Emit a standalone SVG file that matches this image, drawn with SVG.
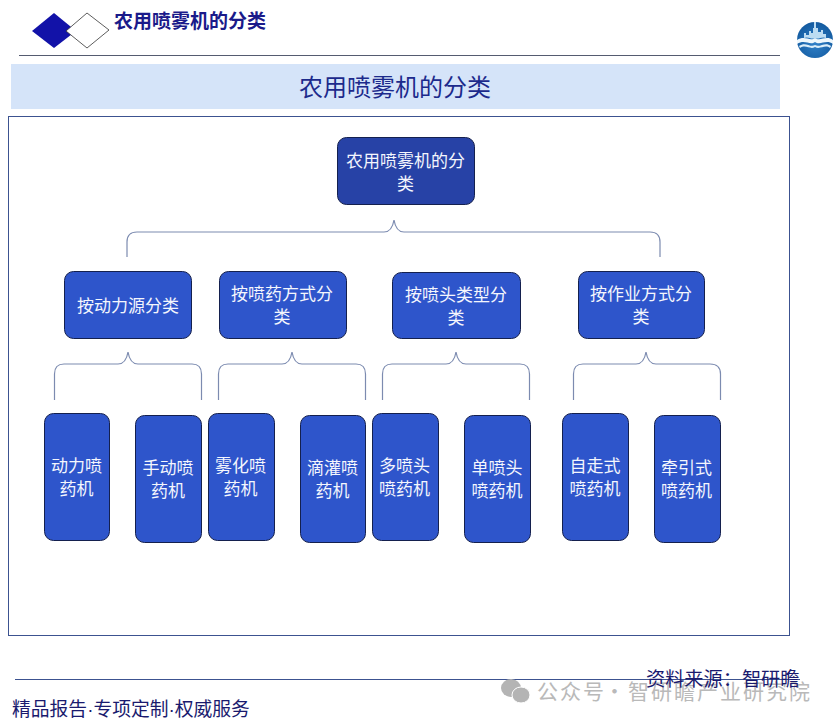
<svg xmlns="http://www.w3.org/2000/svg" width="837" height="724" viewBox="0 0 837 724">
<defs>
<radialGradient id="logo" cx="0.5" cy="0.6" r="0.6"><stop offset="0" stop-color="#2f80c8"/><stop offset="1" stop-color="#135a9f"/></radialGradient>
</defs>
<style>
text{font-family:"Noto Sans CJK SC","Noto Sans",sans-serif}
.l{fill:#f4f6fd;font-size:17px;text-anchor:middle}
.n{fill:#2e55cb;stroke:#14204e;stroke-width:1}
.b{fill:none;stroke:#7c8bb0;stroke-width:1.2}
</style>
<rect width="837" height="724" fill="#fff"/>
<g id="header">
<polygon points="54,13 76,31 54,48 32,31" fill="#1212a8"/>
<polygon points="87,13 109,30 87,48 66,31" fill="#fff" stroke="#333" stroke-width="0.8"/>
<text x="114" y="28" font-size="19" font-weight="700" fill="#1a1a8a">农用喷雾机的分类</text>
<line x1="19" y1="55.500" x2="780" y2="55.500" stroke="#555b70" stroke-width="1"/>
<rect x="11" y="64" width="769" height="45" fill="#d5e4f9"/>
<text x="395" y="96" font-size="24" text-anchor="middle" fill="#1c2a8c">农用喷雾机的分类</text>
</g>
<g id="logo-mark">
<circle cx="815" cy="40" r="18" fill="url(#logo)"/>
<path d="M804,38 V33 H806 V35 H809 V31 H811 V33 H813 V28 H814 V22 H816 V28 H818 V32 H821 V30 H823 V34 H826 V38 C822,36 818,40 815,38 C812,40 808,36 804,38Z" fill="#bcdcf2"/>
<path d="M797,40 C805,35 810,42 815,38 C820,42 826,35 833,40 L833,44 C826,39 820,46 815,42 C810,46 805,39 797,44Z" fill="#eef7fc"/>
<path d="M799,46 C806,41 810,48 815,45 C820,48 825,41 831,46 L830,48 C825,44 820,50 815,47 C810,50 806,44 800,48Z" fill="#dbeef9"/>
</g>
<rect id="frame" x="8.500" y="116.500" width="781" height="519" fill="#fff" stroke="#3c5290" stroke-width="1"/>
<g id="connectors">
<path class="b" d="M127,257 V242 Q127,232 137,232 H384 Q392,232 394,220 Q396,232 404,232 H650 Q660,232 660,242 V257"/>
<path class="b" d="M54.500,400 V374 Q54.500,364 64,364 H118 Q126,364 128,352 Q130,364 138,364 H192 Q201.500,364 201.500,374 V400"/>
<path class="b" d="M218.500,400 V374 Q218.500,364 228,364 H282 Q290,364 292,352 Q294,364 302,364 H356 Q365.500,364 365.500,374 V400"/>
<path class="b" d="M382.500,400 V374 Q382.500,364 392,364 H446 Q454,364 456,352 Q458,364 466,364 H520 Q529.500,364 529.500,374 V400"/>
<path class="b" d="M573.500,400 V374 Q573.500,364 583,364 H636 Q644,364 646,352 Q648,364 656,364 H710 Q720.500,364 720.500,374 V400"/>
</g>
<g id="root"><rect x="337.500" y="137.500" width="137" height="67" rx="9" fill="#2742a6" stroke="#14204e"/><text class="l" x="405.500" y="167">农用喷雾机的分</text><text class="l" x="405.500" y="190">类</text></g>
<g id="n1"><rect class="n" x="64.500" y="271.500" width="127" height="67" rx="9"/><text class="l" x="128" y="312">按动力源分类</text></g>
<g id="n2"><rect class="n" x="219.500" y="271.500" width="127" height="67" rx="9"/><text class="l" x="282" y="300">按喷药方式分</text><text class="l" x="282" y="323">类</text></g>
<g id="n3"><rect class="n" x="392.500" y="272.500" width="128" height="66" rx="9"/><text class="l" x="456" y="301">按喷头类型分</text><text class="l" x="456" y="324">类</text></g>
<g id="n4"><rect class="n" x="578.500" y="271.500" width="126" height="67" rx="9"/><text class="l" x="641" y="300">按作业方式分</text><text class="l" x="641" y="323">类</text></g>
<g id="leaf1"><rect class="n" x="44.500" y="413.500" width="65" height="127" rx="9"/><text class="l" x="76.500" y="472">动力喷</text><text class="l" x="76.500" y="495">药机</text></g>
<g id="leaf2"><rect class="n" x="135.500" y="415.500" width="66" height="127" rx="9"/><text class="l" x="168" y="474">手动喷</text><text class="l" x="168" y="497">药机</text></g>
<g id="leaf3"><rect class="n" x="208.500" y="413.500" width="66" height="127" rx="9"/><text class="l" x="240.500" y="472">雾化喷</text><text class="l" x="240.500" y="495">药机</text></g>
<g id="leaf4"><rect class="n" x="300.500" y="415.500" width="65" height="127" rx="9"/><text class="l" x="332.500" y="474">滴灌喷</text><text class="l" x="332.500" y="497">药机</text></g>
<g id="leaf5"><rect class="n" x="372.500" y="413.500" width="66" height="127" rx="9"/><text class="l" x="404.500" y="472">多喷头</text><text class="l" x="404.500" y="495">喷药机</text></g>
<g id="leaf6"><rect class="n" x="464.500" y="415.500" width="66" height="127" rx="9"/><text class="l" x="497" y="474">单喷头</text><text class="l" x="497" y="497">喷药机</text></g>
<g id="leaf7"><rect class="n" x="562.500" y="413.500" width="66" height="127" rx="9"/><text class="l" x="595" y="472">自走式</text><text class="l" x="595" y="495">喷药机</text></g>
<g id="leaf8"><rect class="n" x="654.500" y="415.500" width="66" height="127" rx="9"/><text class="l" x="686.500" y="474">牵引式</text><text class="l" x="686.500" y="497">喷药机</text></g>
<g id="footer">
<line x1="15" y1="679.500" x2="800" y2="679.500" stroke="#3c5290" stroke-width="1"/>
<g fill="#b4b4b4"><ellipse cx="511" cy="688" rx="10" ry="9"/><ellipse cx="521" cy="695" rx="9" ry="8" stroke="#fff" stroke-width="1"/></g>
<text y="699" font-size="21" fill="#b9b9b9" letter-spacing="2"><tspan x="537">公众号</tspan><tspan x="604">·</tspan><tspan x="628">智研瞻产业研究院</tspan></text>
<text x="646" y="686" font-size="19.200" fill="#1a1a6e">资料来源：智研瞻</text>
<text x="12" y="716" font-size="18.800" fill="#1a1a6e">精品报告<tspan font-family="Liberation Sans">·</tspan>专项定制<tspan font-family="Liberation Sans">·</tspan>权威服务</text>
</g>
</svg>
